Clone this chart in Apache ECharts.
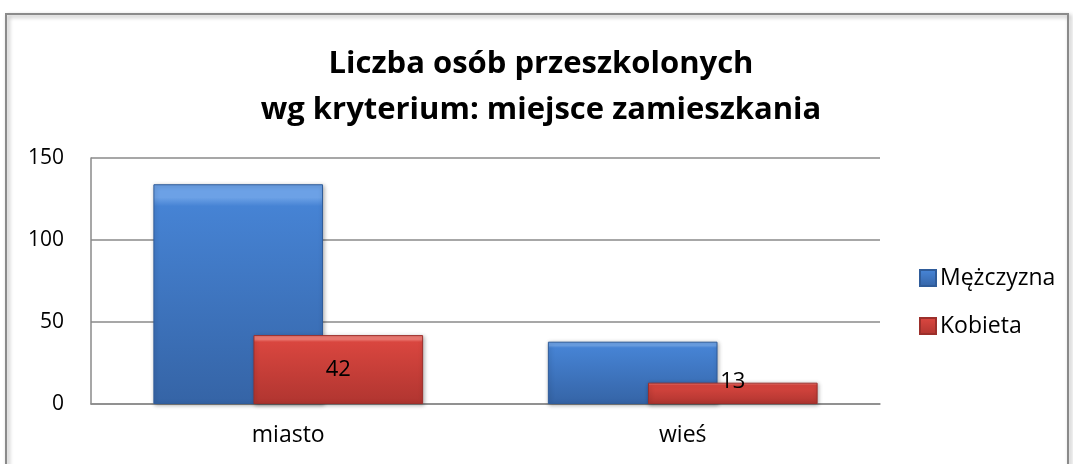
<!DOCTYPE html>
<html>
<head>
<meta charset="utf-8">
<script src="https://cdn.jsdelivr.net/npm/echarts@6/dist/echarts.min.js"></script>
<style>
  html, body { margin: 0; padding: 0; background: #fff; }
  #chart { width: 1073px; height: 464px; }
</style>
</head>
<body>
<div id="chart"></div>
<script>
// data
const categories = ['miasto', 'wieś'];
const seriesNames = ['Mężczyzna', 'Kobieta'];
const menValues = [134, 38];
const womenValues = [42, 13];
const yTicks = [0, 50, 100, 150];

const fontFamily = '"Open Sans", "Noto Sans", sans-serif';

function grad(top, mid, bottom) {
    return new echarts.graphic.LinearGradient(0, 0, 0, 1, [
        { offset: 0, color: top },
        { offset: 0.06, color: top },
        { offset: 0.1, color: mid },
        { offset: 1, color: bottom }
    ]);
}

const blue = grad('#6ca1e6', '#4683d4', '#3564a6');
const red = grad('#ef7b74', '#d9463f', '#b03530');

// labels only on the women series; the small bar gets its label sitting on top
const womenData = womenValues.map(function (v) {
    return {
        value: v,
        label: v < 20 ? { position: 'top', distance: -10 } : { position: 'inside' }
    };
});

const myChart = echarts.init(document.getElementById('chart'));
myChart.setOption({
    animation: false,
    backgroundColor: '#fff',
    title: {
        text: 'Liczba osób przeszkolonych\nwg kryterium: miejsce zamieszkania',
        left: 536,
        textAlign: 'center',
        top: 36,
        textStyle: {
            fontFamily: fontFamily,
            fontSize: 31,
            fontWeight: 'bold',
            color: '#000',
            lineHeight: 46
        }
    },
    graphic: [{
        type: 'rect',
        shape: { x: 6, y: 14, width: 1062, height: 470 },
        style: {
            fill: 'none',
            stroke: '#8a8a8a',
            lineWidth: 2,
            shadowBlur: 4,
            shadowColor: 'rgba(0,0,0,0.35)',
            shadowOffsetX: 2,
            shadowOffsetY: 2
        },
        z: 100
    }],
    legend: {
        orient: 'vertical',
        left: 914,
        top: 261,
        itemWidth: 16,
        itemHeight: 16,
        itemGap: 24,
        icon: 'rect',
        textStyle: { fontFamily: fontFamily, fontSize: 23, lineHeight: 24, color: '#000', padding: [0, 0, 0, -1] },
        data: seriesNames
    },
    grid: { left: 91, right: 193, top: 158, bottom: 60, containLabel: false },
    xAxis: {
        type: 'category',
        data: categories,
        axisLine: { lineStyle: { color: '#8a8a8a', width: 1.5 } },
        axisTick: { show: false },
        axisLabel: { fontFamily: fontFamily, fontSize: 23, color: '#000', margin: 20 }
    },
    yAxis: {
        type: 'value',
        min: yTicks[0],
        max: yTicks[yTicks.length - 1],
        interval: 50,
        axisLine: { show: true, lineStyle: { color: '#8a8a8a', width: 1.5 } },
        axisTick: { show: false },
        splitLine: { lineStyle: { color: '#8a8a8a', width: 1.5 } },
        axisLabel: { fontFamily: fontFamily, fontSize: 21, color: '#000', margin: 27 }
    },
    series: [
        {
            name: seriesNames[0],
            type: 'bar',
            data: menValues,
            barWidth: '43%',
            barGap: '-41%',
            itemStyle: {
                color: blue,
                borderColor: '#2f5c9a',
                borderWidth: 1,
                shadowBlur: 4,
                shadowColor: 'rgba(0,0,0,0.3)',
                shadowOffsetX: 1,
                shadowOffsetY: 1
            }
        },
        {
            name: seriesNames[1],
            type: 'bar',
            data: womenData,
            barWidth: '43%',
            label: {
                show: true,
                fontFamily: fontFamily,
                fontSize: 22,
                color: '#000'
            },
            itemStyle: {
                color: red,
                borderColor: '#9c2f2b',
                borderWidth: 1,
                shadowBlur: 4,
                shadowColor: 'rgba(0,0,0,0.3)',
                shadowOffsetX: 1,
                shadowOffsetY: 1
            }
        }
    ]
});
</script>
</body>
</html>
